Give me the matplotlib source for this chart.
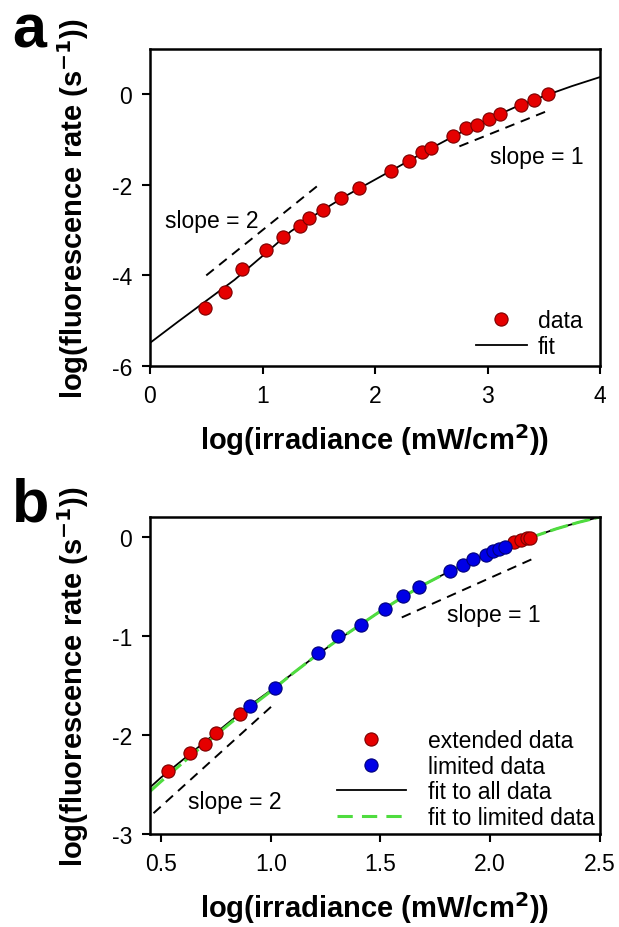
import matplotlib
matplotlib.use("Agg")
import matplotlib.pyplot as plt
from matplotlib.lines import Line2D

# ---------------- data: panel a ----------------
a_x = [0.49, 0.67, 0.82, 1.03, 1.18, 1.33, 1.41, 1.54, 1.70, 1.86, 2.14, 2.30,
       2.42, 2.50, 2.69, 2.81, 2.91, 3.01, 3.11, 3.30, 3.41, 3.54]
a_y = [-4.72, -4.36, -3.85, -3.44, -3.15, -2.90, -2.74, -2.55, -2.29, -2.08, -1.69, -1.47,
       -1.28, -1.18, -0.92, -0.75, -0.67, -0.55, -0.44, -0.23, -0.13, 0.00]
a_fit_x = [0.0, 0.25, 0.5, 0.75, 1.0, 1.25, 1.5, 1.75, 2.0, 2.25, 2.5, 2.75, 3.0,
           3.25, 3.5, 3.75, 4.0]
a_fit_y = [-5.49, -5.02, -4.56, -4.10, -3.57, -3.03, -2.61, -2.23, -1.885, -1.54, -1.19,
           -0.86, -0.56, -0.28, -0.04, 0.18, 0.38]
a_slope2_x = [0.5, 1.5]
a_slope2_y = [-4.0, -2.0]
a_slope1_x = [2.75, 3.52]
a_slope1_y = [-1.15, -0.38]

# ---------------- data: panel b ----------------
b_ext_x = [0.532, 0.632, 0.699, 0.750, 0.858, 2.110, 2.139, 2.169, 2.183]
b_ext_y = [-2.368, -2.183, -2.096, -1.985, -1.789, -0.057, -0.034, -0.013, -0.007]
b_lim_x = [0.904, 1.021, 1.217, 1.307, 1.412, 1.520, 1.604, 1.677, 1.817, 1.878,
           1.920, 1.981, 2.013, 2.038, 2.065]
b_lim_y = [-1.705, -1.524, -1.177, -1.002, -0.891, -0.730, -0.599, -0.505, -0.350, -0.283,
           -0.222, -0.182, -0.145, -0.124, -0.101]
b_fit_x = [0.45, 0.5, 0.6, 0.7, 0.8, 0.9, 1.0, 1.1, 1.2, 1.3, 1.4, 1.5, 1.6, 1.7,
           1.8, 1.9, 2.0, 2.1, 2.2, 2.3, 2.4, 2.5]
b_fit_all_y = [-2.53, -2.43, -2.25, -2.07, -1.89, -1.71, -1.55, -1.38, -1.21, -1.05, -0.90,
               -0.75, -0.61, -0.48, -0.365, -0.26, -0.165, -0.075, 0.005, 0.08, 0.145, 0.20]
b_fit_lim_y = [-2.57, -2.47, -2.28, -2.09, -1.91, -1.73, -1.56, -1.38, -1.21, -1.05, -0.90,
               -0.75, -0.61, -0.48, -0.365, -0.26, -0.165, -0.075, 0.005, 0.08, 0.145, 0.20]
b_slope2_x = [0.466, 1.012]
b_slope2_y = [-2.79, -1.695]
b_slope1_x = [1.597, 2.214]
b_slope1_y = [-0.814, -0.202]

a_xticks = [0, 1, 2, 3, 4]
a_yticks = [-6, -4, -2, 0]
b_xticks = [0.5, 1.0, 1.5, 2.0, 2.5]
b_xticklabels = ["0.5", "1.0", "1.5", "2.0", "2.5"]
b_yticks = [-3, -2, -1, 0]

FONT = ["Liberation Sans", "DejaVu Sans"]
plt.rcParams["font.family"] = FONT
plt.rcParams["axes.linewidth"] = 1.8
plt.rcParams["axes.unicode_minus"] = False

RED = "#e50000"
RED_E = "#7a0000"
BLUE = "#0000e6"
BLUE_E = "#00007a"
GREEN = "#4fdc3f"

W, H = 619, 928
fig = plt.figure(figsize=(W / 100, H / 100), dpi=100)


def px_axes(left, top, right, bottom):
    return fig.add_axes([left / W, 1 - bottom / H, (right - left) / W, (bottom - top) / H])


ylabel_txt = r"log(fluorescence rate (s$^{\mathbf{-1}}$))"
xlabel_txt = r"log(irradiance (mW/cm$^{\mathbf{2}}$))"
FS = 16.5


def style(ax):
    ax.tick_params(axis="both", direction="out", length=6, width=1.5, labelsize=FS,
                   pad=7, top=False, right=False)
    ax.set_ylabel(ylabel_txt, fontsize=21, fontweight="bold")
    ax.set_xlabel(xlabel_txt, fontsize=21, fontweight="bold")
    ax.yaxis.set_label_coords(-0.13, 0.5)
    ax.xaxis.set_label_coords(0.5, -0.175)


MS = 9.5

# ---------------- panel a ----------------
axa = px_axes(150, 50, 600, 367)
axa.plot(a_fit_x, a_fit_y, color="black", lw=1.3, zorder=2)
axa.plot(a_slope2_x, a_slope2_y, color="black", lw=1.4, dashes=(5, 3.5), zorder=2)
axa.plot(a_slope1_x, a_slope1_y, color="black", lw=1.4, dashes=(5, 3.5), zorder=2)
axa.plot(a_x, a_y, "o", ms=MS, mfc=RED, mec=RED_E, mew=0.8, ls="none", zorder=3)
axa.text(0.55, -2.79, "slope = 2", fontsize=FS, ha="center", va="center")
axa.text(3.44, -1.37, "slope = 1", fontsize=FS, ha="center", va="center")
axa.set_xlim(0, 4)
axa.set_ylim(-6, 1)
axa.set_xticks(a_xticks)
axa.set_yticks(a_yticks)
style(axa)
ha = [Line2D([], [], marker="o", ms=MS, mfc=RED, mec=RED_E, mew=0.8, ls="none"),
      Line2D([], [], color="black", lw=1.3)]
axa.legend(ha, ["data", "fit"], loc="lower left", bbox_to_anchor=(2.9, -5.82),
           bbox_transform=axa.transData, frameon=False, fontsize=FS,
           handlelength=2.2, handletextpad=0.5, labelspacing=0.12, borderpad=0,
           borderaxespad=0)

# ---------------- panel b ----------------
axb = px_axes(150, 518, 600, 835)
axb.plot(b_fit_x, b_fit_all_y, color="black", lw=1.3, zorder=2)
axb.plot(b_fit_x, b_fit_lim_y, color=GREEN, lw=2.2, dashes=(6, 1.5), zorder=2.5)
axb.plot(b_slope2_x, b_slope2_y, color="black", lw=1.4, dashes=(5, 3.5), zorder=2)
axb.plot(b_slope1_x, b_slope1_y, color="black", lw=1.4, dashes=(5, 3.5), zorder=2)
axb.plot(b_ext_x, b_ext_y, "o", ms=MS, mfc=RED, mec=RED_E, mew=0.8, ls="none", zorder=3)
axb.plot(b_lim_x, b_lim_y, "o", ms=MS, mfc=BLUE, mec=BLUE_E, mew=0.8, ls="none", zorder=3)
axb.text(0.836, -2.67, "slope = 2", fontsize=FS, ha="center", va="center")
axb.text(2.017, -0.78, "slope = 1", fontsize=FS, ha="center", va="center")
axb.set_xlim(0.45, 2.5)
axb.set_ylim(-3, 0.2)
axb.set_xticks(b_xticks)
axb.set_xticklabels(b_xticklabels)
axb.set_yticks(b_yticks)
style(axb)
hb = [Line2D([], [], marker="o", ms=MS, mfc=RED, mec=RED_E, mew=0.8, ls="none"),
      Line2D([], [], marker="o", ms=MS, mfc=BLUE, mec=BLUE_E, mew=0.8, ls="none"),
      Line2D([], [], color="black", lw=1.3),
      Line2D([], [], color=GREEN, lw=2.2, dashes=(5, 3))]
axb.legend(hb, ["extended data", "limited data", "fit to all data", "fit to limited data"],
           loc="lower left", bbox_to_anchor=(1.301, -2.95), bbox_transform=axb.transData,
           frameon=False, fontsize=FS, handlelength=3.0, handletextpad=1.0,
           labelspacing=0.12, borderpad=0, borderaxespad=0)

# panel letters
fig.text(12 / W, 1 - 47 / H, "a", fontsize=44, fontweight="bold", ha="left",
         va="baseline")
fig.text(12 / W, 1 - 521 / H, "b", fontsize=44, fontweight="bold", ha="left",
         va="baseline")

fig.savefig("out.png", dpi=100)
